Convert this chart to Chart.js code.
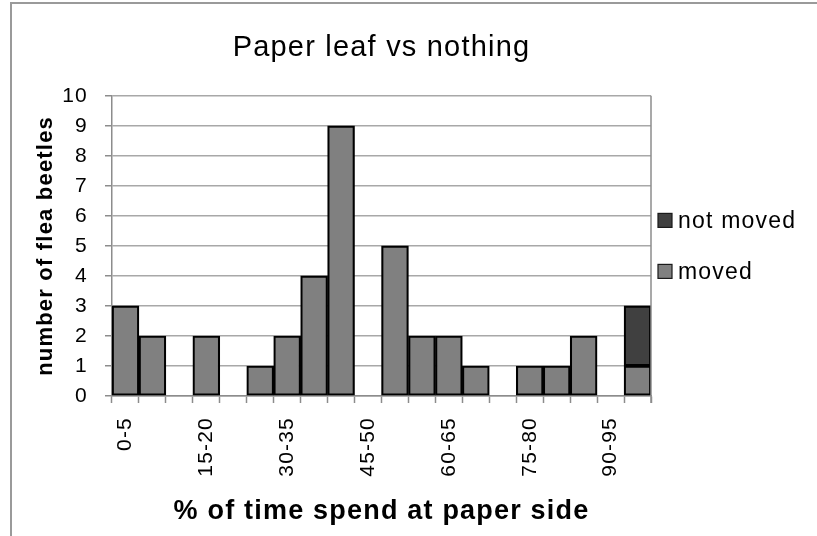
<!DOCTYPE html>
<html>
<head>
<meta charset="utf-8">
<script src="https://cdn.jsdelivr.net/npm/chart.js@4"></script>
<style>
  html, body { margin: 0; padding: 0; background: #fff; }
  #wrap { position: relative; width: 817px; height: 536px; overflow: hidden; }
  #frame { position: absolute; left: 10px; top: 2px; width: 900px; height: 600px;
           border-left: 2px solid #9a9a9a; border-top: 2px solid #9a9a9a; }
  canvas { position: absolute; left: 0; top: 0; }
</style>
</head>
<body>
<div id="wrap">
  <div id="frame"></div>
  <canvas id="c" width="817" height="536"></canvas>
</div>
<script>
// ---- data ----
const categories = ['0-5','5-10','10-15','15-20','20-25','25-30','30-35','35-40','40-45','45-50',
                    '50-55','55-60','60-65','65-70','70-75','75-80','80-85','85-90','90-95','95-100'];
const shownTickLabels = ['0-5','','','15-20','','','30-35','','','45-50',
                         '','','60-65','','','75-80','','','90-95',''];
const moved    = [3,2,0,2,0,1,2,4,9,0,5,2,2,1,0,1,1,2,0,1];
const notMoved = [0,0,0,0,0,0,0,0,0,0,0,0,0,0,0,0,0,0,0,2];
const seriesNames = ['moved','not moved'];
const yTicks = [0,1,2,3,4,5,6,7,8,9,10];

const FONT = "'Liberation Sans', Arial, sans-serif";
const LS = '1.2px';

const spacingPlugin = {
  id: 'spacing',
  beforeInit(c){ c.ctx.letterSpacing = LS; },
  beforeUpdate(c){ c.ctx.letterSpacing = LS; },
  beforeLayout(c){ c.ctx.letterSpacing = LS; },
  beforeDraw(c){ c.ctx.letterSpacing = LS; }
};

const frameLegendPlugin = {
  id: 'frameLegend',
  afterDraw(c){
    const ctx = c.ctx, a = c.chartArea;
    ctx.save();
    // right border of plot area
    ctx.strokeStyle = '#8c8c8c';
    ctx.lineWidth = 1.5;
    ctx.beginPath();
    ctx.moveTo(a.right, a.top);
    ctx.lineTo(a.right, a.bottom + 7);
    ctx.stroke();
    // legend (reverse dataset order)
    const ds = c.data.datasets.slice().reverse();
    const x0 = a.right + 7;
    const cy = (a.top + a.bottom) / 2;
    const gap = 51;
    ds.forEach((d, i) => {
      const y = cy - gap/2 + i*gap;
      ctx.fillStyle = d.backgroundColor;
      ctx.fillRect(x0, y - 7, 14, 14);
      ctx.strokeStyle = '#1a1a1a';
      ctx.lineWidth = 1.2;
      ctx.strokeRect(x0, y - 7, 14, 14);
      ctx.fillStyle = '#000';
      ctx.font = '23px ' + FONT;
      ctx.letterSpacing = LS;
      ctx.textBaseline = 'middle';
      ctx.textAlign = 'left';
      ctx.fillText(d.label, x0 + 20, y + 1);
    });
    ctx.restore();
  }
};

new Chart(document.getElementById('c'), {
  type: 'bar',
  data: {
    labels: categories,
    datasets: [
      { label: seriesNames[0], data: moved, backgroundColor: '#808080', borderColor: '#000',
        borderWidth: 2.2, borderSkipped: false, barPercentage: 1, categoryPercentage: 1 },
      { label: seriesNames[1], data: notMoved, backgroundColor: '#404040', borderColor: '#000',
        borderWidth: 2.2, borderSkipped: false, barPercentage: 1, categoryPercentage: 1 }
    ]
  },
  plugins: [spacingPlugin, frameLegendPlugin],
  options: {
    responsive: false,
    animation: false,
    devicePixelRatio: 1,
    layout: { padding: { left: 0, right: 166, top: 0, bottom: 0 } },
    plugins: {
      legend: { display: false },
      tooltip: { enabled: false },
      title: {
        display: true, text: 'Paper leaf vs nothing', fullSize: false,
        color: '#000', font: { family: FONT, size: 29, weight: 'normal', lineHeight: 1.2 },
        padding: { top: 31, bottom: 30 }
      }
    },
    scales: {
      x: {
        stacked: true,
        offset: true,
        afterFit(s){ s.height = 140; },
        grid: { display: true, offset: true, drawOnChartArea: false, drawTicks: true,
                tickLength: 7, tickColor: '#8c8c8c', tickWidth: 1.5 },
        border: { display: true, color: '#8c8c8c', width: 1.5 },
        ticks: {
          autoSkip: false, minRotation: 90, maxRotation: 90, padding: 14,
          color: '#000', font: { family: FONT, size: 21 },
          callback: (v, i) => shownTickLabels[i]
        },
        title: {
          display: true, text: '% of time spend at paper side', color: '#000',
          font: { family: FONT, size: 27, weight: 'bold', lineHeight: 1.2 },
          padding: { top: 0, bottom: 8 }
        }
      },
      y: {
        stacked: true,
        min: 0, max: 10,
        afterFit(s){ s.width = 112; },
        afterBuildTicks(s){ s.ticks = yTicks.map(v => ({ value: v })); },
        grid: { color: '#a8a8a8', lineWidth: 1.5, drawTicks: true, tickLength: 7,
                tickColor: '#8c8c8c' },
        border: { display: true, color: '#8c8c8c', width: 1.5 },
        ticks: { stepSize: 1, padding: 17, color: '#000', font: { family: FONT, size: 21 } },
        title: {
          display: true, text: 'number of flea beetles', color: '#000',
          font: { family: FONT, size: 22, weight: 'bold', lineHeight: 1.2 },
          padding: { top: 33, bottom: 0 }
        }
      }
    }
  }
});
</script>
</body>
</html>
